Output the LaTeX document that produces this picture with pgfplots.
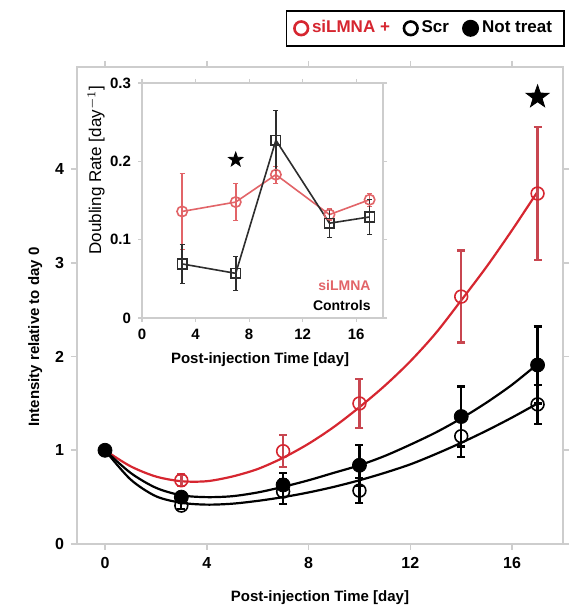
\documentclass[border=0pt]{standalone}
\usepackage{pgfplots}
\pgfplotsset{compat=1.18}
\usepackage{fontspec}
\setmainfont{Liberation Sans}

\definecolor{sired}{RGB}{214,38,48}
\definecolor{sibar}{RGB}{200,70,80}
\definecolor{sipink}{RGB}{226,100,104}
\definecolor{framegray}{RGB}{205,205,205}
\definecolor{ctrlgray}{RGB}{45,45,45}

% filled five-pointed star
\pgfdeclareplotmark{fstar}{%
  \pgfpathmoveto{\pgfpointpolar{90}{\pgfplotmarksize}}%
  \pgfpathlineto{\pgfpointpolar{126}{0.4\pgfplotmarksize}}%
  \pgfpathlineto{\pgfpointpolar{162}{\pgfplotmarksize}}%
  \pgfpathlineto{\pgfpointpolar{198}{0.4\pgfplotmarksize}}%
  \pgfpathlineto{\pgfpointpolar{234}{\pgfplotmarksize}}%
  \pgfpathlineto{\pgfpointpolar{270}{0.4\pgfplotmarksize}}%
  \pgfpathlineto{\pgfpointpolar{306}{\pgfplotmarksize}}%
  \pgfpathlineto{\pgfpointpolar{342}{0.4\pgfplotmarksize}}%
  \pgfpathlineto{\pgfpointpolar{18}{\pgfplotmarksize}}%
  \pgfpathlineto{\pgfpointpolar{54}{0.4\pgfplotmarksize}}%
  \pgfpathclose
  \pgfusepathqfillstroke
}

\begin{document}
\begin{tikzpicture}
\path[use as bounding box] (0pt,0pt) rectangle (284.5pt,306.5pt);

% main axis
\begin{axis}[
  at={(38.5pt,34.5pt)}, anchor=south west,
  scale only axis, width=243pt, height=238.5pt,
  xmin=-1.1, xmax=18, ymin=0, ymax=5.09,
  xtick={0,4,8,12,16}, ytick={0,1,2,3,4},
  tick align=outside,
  axis line style={framegray, line width=0.9pt},
  major tick style={framegray, line width=0.8pt},
  major tick length=3pt,
  /pgf/number format/assume math mode=true,
  ticklabel style={font=\bfseries\fontsize{8}{9}\selectfont},
  label style={font=\bfseries\fontsize{7.5}{9}\selectfont},
  xlabel={Post-injection Time [day]},
  ylabel={Intensity relative to day 0},
  xlabel style={at={(axis description cs:0.5,-0.113)}, anchor=center},
  ylabel style={at={(axis description cs:-0.086,0.434)}, anchor=center},
  legend style={at={(1.004,1.12)}, anchor=north east, draw=black,
    line width=0.9pt, font=\bfseries\fontsize{8.5}{10}\selectfont,
    inner xsep=4pt, inner ysep=3pt,
    /tikz/every even column/.append style={column sep=5pt}},
  legend columns=3,
  legend cell align=left,
]
\addlegendimage{only marks, mark=o, sired, mark size=3.4pt, line width=1.3pt}
\addlegendentry{\textcolor{sired}{siLMNA +}}
\addlegendimage{only marks, mark=o, black, mark size=3.4pt, line width=1.3pt}
\addlegendentry{Scr}
\addlegendimage{only marks, mark=*, black, mark size=3.8pt}
\addlegendentry{Not treat}

% fitted curves
\addplot[sired, line width=1.1pt, smooth, forget plot] coordinates {
  (0,1.0) (1,0.83) (2,0.72) (3,0.67) (4,0.67) (5,0.72) (6,0.8) (7,0.92)
  (8,1.07) (9,1.25) (10,1.46) (11,1.69) (12,1.95) (13,2.25) (14,2.6)
  (15,2.96) (16,3.35) (17,3.76)
};
\addplot[black, line width=1.1pt, smooth, forget plot] coordinates {
  (0,1.0) (1,0.76) (2,0.6) (3,0.52) (4,0.5) (5,0.51) (6,0.55) (7,0.61)
  (8,0.68) (9,0.76) (10,0.84) (11,0.94) (12,1.06) (13,1.19) (14,1.34)
  (15,1.51) (16,1.7) (17,1.92)
};
\addplot[black, line width=1.1pt, smooth, forget plot] coordinates {
  (0,1.0) (1,0.69) (2,0.51) (3,0.44) (4,0.42) (5,0.43) (6,0.46) (7,0.5)
  (8,0.55) (9,0.61) (10,0.68) (11,0.76) (12,0.85) (13,0.96) (14,1.08)
  (15,1.21) (16,1.35) (17,1.5)
};

% Scr
\addplot[black, only marks, mark=o, mark size=3.2pt, line width=0.8pt, forget plot,
  error bars/.cd, y dir=both, y explicit,
  error bar style={line width=1.1pt, black},
  error mark options={rotate=90, mark size=2pt, line width=1.1pt}]
coordinates {
  (3,0.41) +- (0,0.04)
  (7,0.56) +- (0,0.13)
  (10,0.57) +- (0,0.13)
  (14,1.15) +- (0,0.22)
  (17,1.49) +- (0,0.21)
};
% Not treat
\addplot[black, only marks, mark=*, mark size=3.5pt, forget plot,
  error bars/.cd, y dir=both, y explicit,
  error bar style={line width=1.1pt, black},
  error mark options={rotate=90, mark size=2pt, line width=1.1pt}]
coordinates {
  (0,1.0) +- (0,0)
  (3,0.5) +- (0,0.05)
  (7,0.63) +- (0,0.13)
  (10,0.84) +- (0,0.22)
  (14,1.36) +- (0,0.32)
  (17,1.91) +- (0,0.41)
};
% siLMNA
\addplot[sired, only marks, mark=o, mark size=3.2pt, line width=0.8pt, forget plot,
  error bars/.cd, y dir=both, y explicit,
  error bar style={line width=1.2pt, sibar},
  error mark options={rotate=90, mark size=2pt, line width=1.2pt, sibar}]
coordinates {
  (3,0.68) +- (0,0.06)
  (7,0.99) +- (0,0.17)
  (10,1.5) +- (0,0.26)
  (14,2.64) +- (0,0.49)
  (17,3.74) +- (0,0.71)
};
\addplot[only marks, mark=fstar, mark size=6pt, black, forget plot]
  coordinates {(17,4.77)};
\end{axis}

% inset
\begin{axis}[
  at={(71pt,147.5pt)}, anchor=south west,
  scale only axis, width=120.5pt, height=117.5pt,
  xmin=0, xmax=18, ymin=0, ymax=0.3,
  xtick={0,4,8,12,16}, ytick={0,0.1,0.2,0.3},
  tick align=outside,
  axis background/.style={fill=white},
  axis line style={framegray, line width=0.8pt},
  major tick style={framegray, line width=0.6pt},
  major tick length=2pt,
  /pgf/number format/assume math mode=true,
  ticklabel style={font=\bfseries\fontsize{7.5}{9}\selectfont},
  xlabel={Post-injection Time [day]},
  ylabel={Doubling Rate [day$^{-1}$]},
  xlabel style={font=\bfseries\fontsize{7.5}{9}\selectfont,
    at={(axis description cs:0.49,-0.179)}, anchor=center},
  ylabel style={font=\fontsize{8.5}{10}\selectfont,
    at={(axis description cs:-0.19,0.63)}, anchor=center},
]
\addplot[sipink, line width=0.8pt, mark=o, mark size=2.6pt,
  error bars/.cd, y dir=both, y explicit,
  error bar style={line width=0.8pt, sipink},
  error mark options={rotate=90, mark size=1.3pt, sipink}]
coordinates {
  (3,0.136) +- (0,0.048)
  (7,0.148) +- (0,0.024)
  (10,0.183) +- (0,0.011)
  (14,0.132) +- (0,0.008)
  (17,0.151) +- (0,0.008)
};
\addplot[ctrlgray, line width=0.8pt, mark=square, mark size=2.4pt,
  error bars/.cd, y dir=both, y explicit,
  error bar style={line width=0.8pt, ctrlgray},
  error mark options={rotate=90, mark size=1.3pt, ctrlgray}]
coordinates {
  (3,0.069) +- (0,0.025)
  (7,0.057) +- (0,0.022)
  (10,0.227) +- (0,0.038)
  (14,0.121) +- (0,0.018)
  (17,0.129) +- (0,0.022)
};
\addplot[only marks, mark=fstar, mark size=3.8pt, black]
  coordinates {(7,0.202)};
\node[anchor=east, font=\bfseries\fontsize{7}{8}\selectfont, text=sipink, inner sep=0pt]
  at (axis description cs:0.95,0.14) {siLMNA};
\node[anchor=east, font=\bfseries\fontsize{7}{8}\selectfont, inner sep=0pt]
  at (axis description cs:0.95,0.055) {Controls};
\end{axis}
\end{tikzpicture}
\end{document}
